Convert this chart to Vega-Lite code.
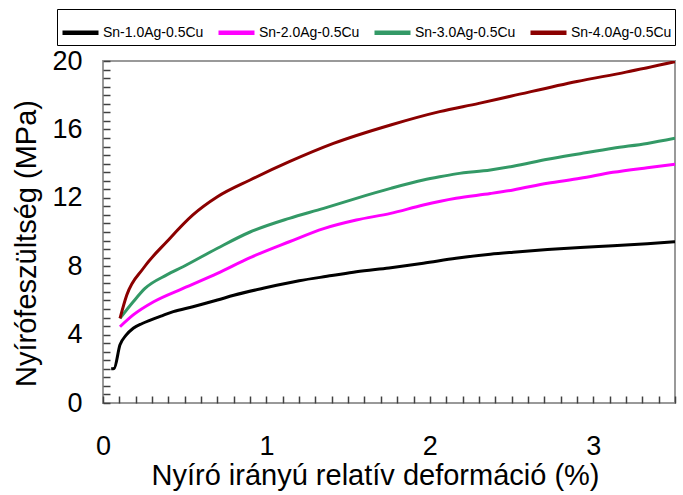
{
  "$schema": "https://vega.github.io/schema/vega-lite/v6.json",
  "width": 572,
  "height": 342,
  "autosize": {"type": "none"},
  "padding": {"left": 103, "top": 61, "right": 8, "bottom": 92},
  "background": "white",
  "config": {
    "view": {"stroke": "#999999", "strokeWidth": 2},
    "font": "Liberation Sans"
  },
  "data": {"values": [
    {"x": 0.05, "y": 2.0, "s": "Sn-1.0Ag-0.5Cu"},
    {"x": 0.068, "y": 2.02, "s": "Sn-1.0Ag-0.5Cu"},
    {"x": 0.104, "y": 3.4, "s": "Sn-1.0Ag-0.5Cu"},
    {"x": 0.14, "y": 3.95, "s": "Sn-1.0Ag-0.5Cu"},
    {"x": 0.185, "y": 4.37, "s": "Sn-1.0Ag-0.5Cu"},
    {"x": 0.24, "y": 4.65, "s": "Sn-1.0Ag-0.5Cu"},
    {"x": 0.29, "y": 4.85, "s": "Sn-1.0Ag-0.5Cu"},
    {"x": 0.36, "y": 5.1, "s": "Sn-1.0Ag-0.5Cu"},
    {"x": 0.43, "y": 5.34, "s": "Sn-1.0Ag-0.5Cu"},
    {"x": 0.55, "y": 5.63, "s": "Sn-1.0Ag-0.5Cu"},
    {"x": 0.7, "y": 6.02, "s": "Sn-1.0Ag-0.5Cu"},
    {"x": 0.8, "y": 6.3, "s": "Sn-1.0Ag-0.5Cu"},
    {"x": 1.0, "y": 6.75, "s": "Sn-1.0Ag-0.5Cu"},
    {"x": 1.2, "y": 7.15, "s": "Sn-1.0Ag-0.5Cu"},
    {"x": 1.4, "y": 7.45, "s": "Sn-1.0Ag-0.5Cu"},
    {"x": 1.55, "y": 7.68, "s": "Sn-1.0Ag-0.5Cu"},
    {"x": 1.75, "y": 7.9, "s": "Sn-1.0Ag-0.5Cu"},
    {"x": 1.96, "y": 8.17, "s": "Sn-1.0Ag-0.5Cu"},
    {"x": 2.16, "y": 8.46, "s": "Sn-1.0Ag-0.5Cu"},
    {"x": 2.37, "y": 8.7, "s": "Sn-1.0Ag-0.5Cu"},
    {"x": 2.51, "y": 8.82, "s": "Sn-1.0Ag-0.5Cu"},
    {"x": 2.72, "y": 8.98, "s": "Sn-1.0Ag-0.5Cu"},
    {"x": 2.92, "y": 9.1, "s": "Sn-1.0Ag-0.5Cu"},
    {"x": 3.12, "y": 9.2, "s": "Sn-1.0Ag-0.5Cu"},
    {"x": 3.33, "y": 9.32, "s": "Sn-1.0Ag-0.5Cu"},
    {"x": 3.5, "y": 9.43, "s": "Sn-1.0Ag-0.5Cu"},
    {"x": 0.104, "y": 4.46, "s": "Sn-2.0Ag-0.5Cu"},
    {"x": 0.185, "y": 5.15, "s": "Sn-2.0Ag-0.5Cu"},
    {"x": 0.31, "y": 5.92, "s": "Sn-2.0Ag-0.5Cu"},
    {"x": 0.49, "y": 6.7, "s": "Sn-2.0Ag-0.5Cu"},
    {"x": 0.7, "y": 7.58, "s": "Sn-2.0Ag-0.5Cu"},
    {"x": 0.9, "y": 8.5, "s": "Sn-2.0Ag-0.5Cu"},
    {"x": 1.14, "y": 9.43, "s": "Sn-2.0Ag-0.5Cu"},
    {"x": 1.35, "y": 10.2, "s": "Sn-2.0Ag-0.5Cu"},
    {"x": 1.55, "y": 10.7, "s": "Sn-2.0Ag-0.5Cu"},
    {"x": 1.76, "y": 11.09, "s": "Sn-2.0Ag-0.5Cu"},
    {"x": 1.96, "y": 11.58, "s": "Sn-2.0Ag-0.5Cu"},
    {"x": 2.16, "y": 11.97, "s": "Sn-2.0Ag-0.5Cu"},
    {"x": 2.37, "y": 12.25, "s": "Sn-2.0Ag-0.5Cu"},
    {"x": 2.51, "y": 12.46, "s": "Sn-2.0Ag-0.5Cu"},
    {"x": 2.72, "y": 12.85, "s": "Sn-2.0Ag-0.5Cu"},
    {"x": 2.92, "y": 13.14, "s": "Sn-2.0Ag-0.5Cu"},
    {"x": 3.12, "y": 13.49, "s": "Sn-2.0Ag-0.5Cu"},
    {"x": 3.33, "y": 13.76, "s": "Sn-2.0Ag-0.5Cu"},
    {"x": 3.5, "y": 13.96, "s": "Sn-2.0Ag-0.5Cu"},
    {"x": 0.104, "y": 4.95, "s": "Sn-3.0Ag-0.5Cu"},
    {"x": 0.185, "y": 5.92, "s": "Sn-3.0Ag-0.5Cu"},
    {"x": 0.257, "y": 6.7, "s": "Sn-3.0Ag-0.5Cu"},
    {"x": 0.39, "y": 7.49, "s": "Sn-3.0Ag-0.5Cu"},
    {"x": 0.49, "y": 7.97, "s": "Sn-3.0Ag-0.5Cu"},
    {"x": 0.7, "y": 9.05, "s": "Sn-3.0Ag-0.5Cu"},
    {"x": 0.9, "y": 10.0, "s": "Sn-3.0Ag-0.5Cu"},
    {"x": 1.14, "y": 10.8, "s": "Sn-3.0Ag-0.5Cu"},
    {"x": 1.35, "y": 11.38, "s": "Sn-3.0Ag-0.5Cu"},
    {"x": 1.55, "y": 11.97, "s": "Sn-3.0Ag-0.5Cu"},
    {"x": 1.76, "y": 12.55, "s": "Sn-3.0Ag-0.5Cu"},
    {"x": 1.96, "y": 13.04, "s": "Sn-3.0Ag-0.5Cu"},
    {"x": 2.06, "y": 13.23, "s": "Sn-3.0Ag-0.5Cu"},
    {"x": 2.16, "y": 13.4, "s": "Sn-3.0Ag-0.5Cu"},
    {"x": 2.37, "y": 13.63, "s": "Sn-3.0Ag-0.5Cu"},
    {"x": 2.51, "y": 13.85, "s": "Sn-3.0Ag-0.5Cu"},
    {"x": 2.72, "y": 14.25, "s": "Sn-3.0Ag-0.5Cu"},
    {"x": 2.92, "y": 14.58, "s": "Sn-3.0Ag-0.5Cu"},
    {"x": 3.12, "y": 14.9, "s": "Sn-3.0Ag-0.5Cu"},
    {"x": 3.33, "y": 15.18, "s": "Sn-3.0Ag-0.5Cu"},
    {"x": 3.5, "y": 15.48, "s": "Sn-3.0Ag-0.5Cu"},
    {"x": 0.104, "y": 4.95, "s": "Sn-4.0Ag-0.5Cu"},
    {"x": 0.145, "y": 6.3, "s": "Sn-4.0Ag-0.5Cu"},
    {"x": 0.247, "y": 7.88, "s": "Sn-4.0Ag-0.5Cu"},
    {"x": 0.39, "y": 9.43, "s": "Sn-4.0Ag-0.5Cu"},
    {"x": 0.55, "y": 11.0, "s": "Sn-4.0Ag-0.5Cu"},
    {"x": 0.7, "y": 12.06, "s": "Sn-4.0Ag-0.5Cu"},
    {"x": 0.9, "y": 13.04, "s": "Sn-4.0Ag-0.5Cu"},
    {"x": 1.14, "y": 14.11, "s": "Sn-4.0Ag-0.5Cu"},
    {"x": 1.41, "y": 15.18, "s": "Sn-4.0Ag-0.5Cu"},
    {"x": 1.76, "y": 16.26, "s": "Sn-4.0Ag-0.5Cu"},
    {"x": 2.06, "y": 17.04, "s": "Sn-4.0Ag-0.5Cu"},
    {"x": 2.3, "y": 17.52, "s": "Sn-4.0Ag-0.5Cu"},
    {"x": 2.5, "y": 17.95, "s": "Sn-4.0Ag-0.5Cu"},
    {"x": 2.9, "y": 18.8, "s": "Sn-4.0Ag-0.5Cu"},
    {"x": 3.2, "y": 19.35, "s": "Sn-4.0Ag-0.5Cu"},
    {"x": 3.5, "y": 19.96, "s": "Sn-4.0Ag-0.5Cu"}
  ]},
  "mark": {"type": "line", "strokeWidth": 3, "clip": true, "interpolate": "monotone"},
  "encoding": {
    "x": {
      "field": "x", "type": "quantitative",
      "scale": {"domain": [0, 3.5], "nice": false, "zero": false},
      "axis": {
        "title": "Nyíró irányú relatív deformáció (%)",
        "values": [0,0.1,0.2,0.3,0.4,0.5,0.6,0.7,0.8,0.9,1,1.1,1.2,1.3,1.4,1.5,1.6,1.7,1.8,1.9,2,2.1,2.2,2.3,2.4,2.5,2.6,2.7,2.8,2.9,3,3.1,3.2,3.3,3.4,3.5],
        "labelExpr": "datum.value % 1 === 0 ? format(datum.value, 'd') : ''",
        "grid": false,
        "domain": false,
        "offset": -7,
        "tickSize": 7,
        "tickColor": "#404040",
        "tickWidth": 1.5,
        "labelFontSize": 27,
        "labelColor": "#000",
        "labelPadding": 30,
        "labelFlush": false,
        "labelOverlap": false,
        "titleFontSize": 29,
        "titleFontWeight": "normal",
        "titleColor": "#000",
        "titleX": 272,
        "titleY": 88,
        "titleBaseline": "alphabetic",
        "titleAlign": "center"
      }
    },
    "y": {
      "field": "y", "type": "quantitative",
      "scale": {"domain": [0, 20], "nice": false},
      "axis": {
        "title": "Nyírófeszültség (MPa)",
        "values": [0,0.5,1,1.5,2,2.5,3,3.5,4,4.5,5,5.5,6,6.5,7,7.5,8,8.5,9,9.5,10,10.5,11,11.5,12,12.5,13,13.5,14,14.5,15,15.5,16,16.5,17,17.5,18,18.5,19,19.5,20],
        "labelExpr": "datum.value % 4 === 0 ? format(datum.value, 'd') : ''",
        "grid": false,
        "domain": false,
        "offset": -7,
        "tickSize": 7,
        "tickColor": "#404040",
        "tickWidth": 1.5,
        "labelFontSize": 27,
        "labelColor": "#000",
        "labelPadding": 21,
        "labelFlush": false,
        "labelOverlap": false,
        "titleFontSize": 29,
        "titleFontWeight": "normal",
        "titleColor": "#000",
        "titleX": -75,
        "titleY": 182,
        "titleBaseline": "alphabetic",
        "titleAlign": "center",
        "titleAngle": -90
      }
    },
    "color": {
      "field": "s", "type": "nominal",
      "scale": {"domain": ["Sn-1.0Ag-0.5Cu", "Sn-2.0Ag-0.5Cu", "Sn-3.0Ag-0.5Cu", "Sn-4.0Ag-0.5Cu"], "range": ["#000000", "#ff00ff", "#339966", "#8b0000"]},
      "legend": {
        "title": null,
        "orient": "none",
        "direction": "horizontal",
        "legendX": -46,
        "legendY": -52,
        "strokeColor": "#000",
        "padding": 3,
        "symbolType": "stroke",
        "symbolStrokeWidth": 4.5,
        "symbolSize": 1296,
        "labelFontSize": 14,
        "labelColor": "#000",
        "labelOffset": 2,
        "labelLimit": 200,
        "columnPadding": 5
      }
    }
  }
}
